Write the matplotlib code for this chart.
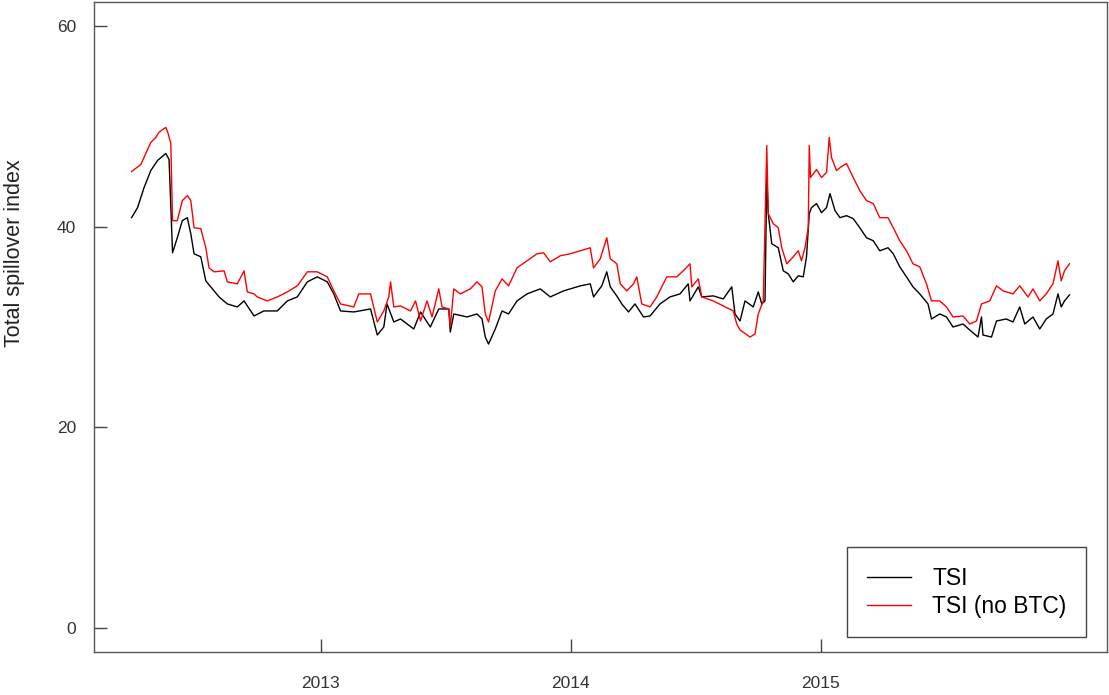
import numpy as np
import matplotlib
matplotlib.use("Agg")
import matplotlib.pyplot as plt

plt.rcParams['font.family'] = ['Liberation Sans', 'DejaVu Sans']

# total spillover index (decimal years)
tsi_t = [2012.244, 2012.268, 2012.294, 2012.321, 2012.348, 2012.381, 2012.394, 2012.408,
         2012.427, 2012.447, 2012.467, 2012.481, 2012.494, 2012.521, 2012.541, 2012.561,
         2012.594, 2012.627, 2012.667, 2012.694, 2012.734, 2012.773, 2012.827, 2012.867,
         2012.907, 2012.947, 2012.987, 2013.027, 2013.053, 2013.080, 2013.133, 2013.200,
         2013.227, 2013.253, 2013.266, 2013.293, 2013.320, 2013.373, 2013.400, 2013.439,
         2013.473, 2013.513, 2013.519, 2013.533, 2013.586, 2013.626, 2013.646, 2013.659,
         2013.672, 2013.699, 2013.726, 2013.752, 2013.786, 2013.826, 2013.879, 2013.919,
         2013.972, 2014.039, 2014.079, 2014.092, 2014.125, 2014.145, 2014.159, 2014.185,
         2014.205, 2014.232, 2014.258, 2014.292, 2014.318, 2014.358, 2014.398, 2014.438,
         2014.471, 2014.478, 2014.511, 2014.525, 2014.571, 2014.611, 2014.645, 2014.658,
         2014.678, 2014.698, 2014.731, 2014.751, 2014.765, 2014.778, 2014.785, 2014.791,
         2014.805, 2014.831, 2014.851, 2014.871, 2014.891, 2014.911, 2014.931, 2014.944,
         2014.955, 2014.964, 2014.984, 2015.004, 2015.024, 2015.038, 2015.058, 2015.078,
         2015.104, 2015.131, 2015.157, 2015.184, 2015.211, 2015.237, 2015.270, 2015.291,
         2015.317, 2015.344, 2015.370, 2015.397, 2015.430, 2015.444, 2015.477, 2015.504,
         2015.530, 2015.570, 2015.597, 2015.630, 2015.644, 2015.650, 2015.684, 2015.704,
         2015.743, 2015.770, 2015.797, 2015.817, 2015.850, 2015.877, 2015.903, 2015.930,
         2015.950, 2015.963, 2015.976, 2015.996]
tsi = [40.9, 41.9, 43.9, 45.6, 46.6, 47.3, 46.7, 37.4,
       38.9, 40.6, 40.9, 39.3, 37.3, 37.0, 34.6, 34.0,
       33.0, 32.3, 32.0, 32.6, 31.1, 31.6, 31.6, 32.6,
       33.0, 34.5, 35.0, 34.5, 33.3, 31.6, 31.5, 31.8,
       29.2, 30.0, 32.3, 30.5, 30.8, 29.8, 31.5, 30.0,
       31.8, 31.8, 29.5, 31.3, 31.0, 31.3, 30.8, 29.0,
       28.3, 29.8, 31.6, 31.3, 32.6, 33.3, 33.8, 33.0,
       33.6, 34.1, 34.3, 33.0, 34.1, 35.5, 34.0, 33.1,
       32.3, 31.5, 32.3, 31.0, 31.1, 32.3, 33.0, 33.3,
       34.3, 32.6, 34.0, 33.0, 33.1, 32.8, 34.0, 31.3,
       30.6, 32.6, 32.0, 33.5, 32.3, 32.6, 44.9, 41.3,
       38.3, 37.9, 35.6, 35.3, 34.5, 35.1, 35.0, 37.0,
       41.3, 41.9, 42.3, 41.4, 41.9, 43.3, 41.6, 40.9,
       41.1, 40.8, 39.9, 38.9, 38.6, 37.6, 37.9, 37.3,
       36.0, 35.0, 34.0, 33.3, 32.3, 30.8, 31.3, 31.0,
       30.0, 30.3, 29.7, 29.0, 31.0, 29.2, 29.0, 30.6,
       30.8, 30.5, 32.0, 30.3, 31.0, 29.8, 30.8, 31.3,
       33.3, 32.0, 32.6, 33.2]

# TSI without BTC
nobtc_t = [2012.244, 2012.281, 2012.321, 2012.341, 2012.353, 2012.381, 2012.389, 2012.401,
           2012.408, 2012.427, 2012.447, 2012.467, 2012.481, 2012.494, 2012.521, 2012.541,
           2012.554, 2012.574, 2012.614, 2012.627, 2012.667, 2012.694, 2012.707, 2012.734,
           2012.747, 2012.787, 2012.827, 2012.867, 2012.907, 2012.947, 2012.987, 2013.027,
           2013.053, 2013.080, 2013.133, 2013.153, 2013.200, 2013.227, 2013.253, 2013.273,
           2013.280, 2013.293, 2013.320, 2013.360, 2013.380, 2013.400, 2013.426, 2013.446,
           2013.473, 2013.486, 2013.513, 2013.519, 2013.533, 2013.559, 2013.599, 2013.626,
           2013.646, 2013.659, 2013.672, 2013.699, 2013.726, 2013.752, 2013.786, 2013.826,
           2013.866, 2013.892, 2013.919, 2013.959, 2013.999, 2014.039, 2014.079, 2014.092,
           2014.119, 2014.145, 2014.159, 2014.185, 2014.199, 2014.225, 2014.252, 2014.265,
           2014.285, 2014.318, 2014.345, 2014.385, 2014.425, 2014.451, 2014.478, 2014.485,
           2014.511, 2014.525, 2014.571, 2014.611, 2014.651, 2014.665, 2014.678, 2014.718,
           2014.738, 2014.751, 2014.771, 2014.785, 2014.791, 2014.811, 2014.831, 2014.845,
           2014.865, 2014.891, 2014.911, 2014.924, 2014.938, 2014.951, 2014.955, 2014.960,
           2014.984, 2015.004, 2015.024, 2015.035, 2015.044, 2015.064, 2015.084, 2015.104,
           2015.131, 2015.157, 2015.184, 2015.211, 2015.237, 2015.270, 2015.291, 2015.317,
           2015.344, 2015.370, 2015.397, 2015.424, 2015.444, 2015.477, 2015.504, 2015.530,
           2015.570, 2015.597, 2015.624, 2015.644, 2015.677, 2015.704, 2015.730, 2015.770,
           2015.797, 2015.830, 2015.850, 2015.877, 2015.903, 2015.930, 2015.950, 2015.963,
           2015.976, 2015.996]
nobtc = [45.5, 46.2, 48.4, 48.9, 49.4, 49.9, 49.4, 48.3,
         40.6, 40.6, 42.6, 43.1, 42.6, 39.9, 39.8, 37.9,
         35.9, 35.5, 35.6, 34.5, 34.3, 35.6, 33.5, 33.3,
         33.0, 32.6, 33.0, 33.5, 34.1, 35.5, 35.5, 35.0,
         33.6, 32.3, 32.0, 33.3, 33.3, 30.5, 31.6, 33.0,
         34.5, 32.0, 32.1, 31.6, 32.6, 30.6, 32.6, 31.0,
         33.8, 32.0, 31.8, 30.0, 33.8, 33.3, 33.8, 34.5,
         34.0, 31.3, 30.5, 33.6, 34.8, 34.1, 35.9, 36.6,
         37.3, 37.4, 36.5, 37.1, 37.3, 37.6, 37.9, 35.9,
         36.8, 38.9, 36.8, 36.3, 34.3, 33.6, 34.3, 35.0,
         32.3, 32.0, 33.0, 35.0, 35.0, 35.6, 36.3, 34.0,
         34.8, 33.0, 32.6, 32.1, 31.6, 30.3, 29.7, 29.0,
         29.3, 31.3, 32.6, 48.1, 41.3, 40.3, 39.9, 37.9,
         36.3, 37.0, 37.6, 36.6, 37.9, 39.9, 48.1, 44.9,
         45.7, 44.9, 45.4, 48.9, 46.9, 45.6, 46.0, 46.3,
         44.9, 43.6, 42.6, 42.3, 40.9, 40.9, 39.9, 38.6,
         37.6, 36.3, 36.0, 34.3, 32.6, 32.6, 32.0, 31.0,
         31.1, 30.3, 30.6, 32.3, 32.6, 34.1, 33.6, 33.3,
         34.1, 33.0, 33.8, 32.6, 33.3, 34.3, 36.6, 34.6,
         35.6, 36.3]

year_ticks = [2013, 2014, 2015]
y_ticks = [0, 20, 40, 60]
labels = ["TSI", "TSI (no BTC)"]

fig = plt.figure(figsize=(11.09, 6.95), dpi=100)
ax = fig.add_axes([0.0848, 0.0619, 0.9134, 0.9352])

ax.plot(tsi_t, tsi, color="black", lw=1.0, label=labels[0])
ax.plot(nobtc_t, nobtc, color="red", lw=1.0, label=labels[1])

# R-like axes: 4% padding, inward ticks
ax.margins(x=0.04)
ax.set_ylim(-2.4, 62.4)
ax.set_xticks(year_ticks)
ax.set_xticklabels([str(y) for y in year_ticks])
ax.set_yticks(y_ticks)
ax.tick_params(axis="both", direction="in", length=9.5, width=1.0, color="#444444",
               labelsize=12.5, labelcolor="#333333")
ax.tick_params(axis="x", pad=17)
ax.tick_params(axis="y", pad=13)
for s in ax.spines.values():
    s.set_color("#555555")
    s.set_linewidth(1.0)

ax.set_ylabel("Total spillover index", fontsize=15.5, color="#222222")
ax.yaxis.set_label_coords(-0.068, 0.614)

leg = ax.legend(loc="lower right", bbox_to_anchor=(0.979, 0.023), borderaxespad=0,
                fontsize=16.5, handlelength=1.95, handletextpad=0.9, fancybox=False,
                framealpha=1, edgecolor="#444444", borderpad=0.85, labelspacing=0.2)
leg.get_frame().set_linewidth(1.0)

fig.savefig("out.png", dpi=100)
